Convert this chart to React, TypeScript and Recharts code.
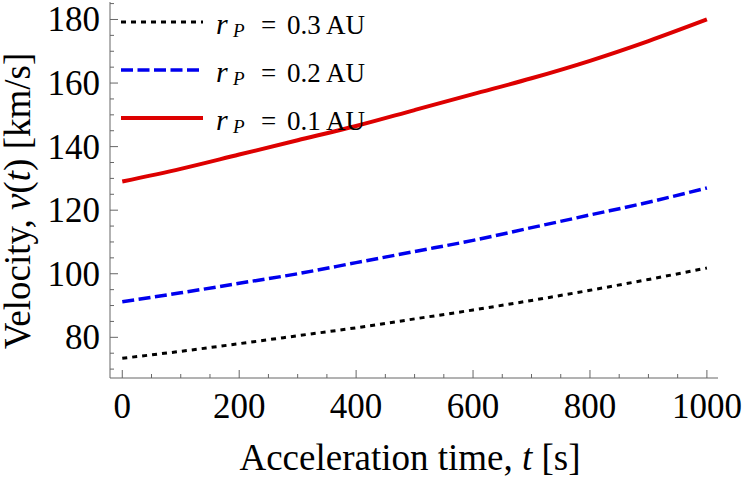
import * as React from 'react';
import { LineChart, Line, XAxis, YAxis, Legend } from 'recharts';

// acceleration time [s]
const times = [0, 100, 200, 300, 400, 500, 600, 700, 800, 900, 1000];
// velocity [km/s] for each perihelion distance
const vel03 = [73.4, 75.6, 78, 80.5, 83, 85.8, 88.6, 91.6, 94.8, 98.2, 101.8];
const vel02 = [91.2, 94, 97, 100, 103.5, 107, 110.5, 114.5, 118.5, 122.5, 127];
const vel01 = [129, 133, 137.5, 142, 146.5, 151.5, 156.5, 161.5, 167, 173.2, 180];

const seriesKeys = ['r03', 'r02', 'r01'];
const seriesLabels = ['0.3 AU', '0.2 AU', '0.1 AU'];

const xMajor = [0, 200, 400, 600, 800, 1000];
const xTicks = [0, 50, 100, 150, 200, 250, 300, 350, 400, 450, 500, 550, 600, 650, 700, 750, 800, 850, 900, 950, 1000];
const yMajor = [80, 100, 120, 140, 160, 180];
const yTicks = [70, 75, 80, 85, 90, 95, 100, 105, 110, 115, 120, 125, 130, 135, 140, 145, 150, 155, 160, 165, 170, 175, 180, 185];

const data = times.map((t, i) => ({ t, r03: vel03[i], r02: vel02[i], r01: vel01[i] }));

const FRAME = '#666';
const FONT = 'Liberation Serif';

const styles: Record<string, { color: string; width: number; dash?: string }> = {
  r03: { color: '#000000', width: 3, dash: '5 5' },
  r02: { color: '#0000ee', width: 3.5, dash: '12 4.5' },
  r01: { color: '#dd0000', width: 4 },
};

const txt = { fontFamily: FONT };

const BottomTick = (props: any) => {
  const { x, y, payload } = props;
  const major = xMajor.includes(payload.value);
  return (
    <g>
      <line x1={x} x2={x} y1={y} y2={y - (major ? 8 : 4)} stroke={FRAME} />
      {major && (
        <text x={x} y={y + 40} textAnchor="middle" fontSize={35} style={txt} fill="#000">
          {payload.value}
        </text>
      )}
    </g>
  );
};

const TopTick = (props: any) => {
  const { x, y, payload } = props;
  const major = xMajor.includes(payload.value);
  return <line x1={x} x2={x} y1={y} y2={y + (major ? 8 : 4)} stroke={FRAME} />;
};

const LeftTick = (props: any) => {
  const { x, y, payload } = props;
  const major = yMajor.includes(payload.value);
  return (
    <g>
      <line x1={x} x2={x + (major ? 8 : 4)} y1={y} y2={y} stroke={FRAME} />
      {major && (
        <text x={x - 10} y={y + 12} textAnchor="end" fontSize={35} style={txt} fill="#000">
          {payload.value}
        </text>
      )}
    </g>
  );
};

const RightTick = (props: any) => {
  const { x, y, payload } = props;
  const major = yMajor.includes(payload.value);
  return <line x1={x} x2={x - (major ? 8 : 4)} y1={y} y2={y} stroke={FRAME} />;
};

const XTitle = (props: any) => {
  const vb = props.viewBox || {};
  return (
    <text x={vb.x + vb.width / 2 - 4} y={vb.y + 92} textAnchor="middle" fontSize={37} style={txt} fill="#000">
      Acceleration time, <tspan fontStyle="italic">t</tspan> [s]
    </text>
  );
};

const YTitle = (props: any) => {
  const vb = props.viewBox || {};
  const cx = vb.x + 30;
  const cy = vb.y + vb.height / 2 + 11;
  return (
    <text
      x={cx}
      y={cy}
      transform={`rotate(-90 ${cx} ${cy})`}
      textAnchor="middle"
      fontSize={37}
      style={txt}
      fill="#000"
    >
      Velocity, <tspan fontStyle="italic">v</tspan>(<tspan fontStyle="italic">t</tspan>) [km/s]
    </text>
  );
};

// legend drawn inside the frame, top left, in series order
const renderLegend = (props: any) => {
  const payload = [...(props.payload || [])].sort(
    (a: any, b: any) => seriesKeys.indexOf(a.dataKey) - seriesKeys.indexOf(b.dataKey)
  );
  return (
    <svg width={280} height={140} style={{ display: 'block' }}>
      {payload.map((entry: any, i: number) => {
        const s = styles[entry.dataKey] || { color: entry.color, width: 3 };
        const cy = 20 + i * 48;
        return (
          <g key={`leg-${i}`}>
            <line
              x1={11}
              x2={93}
              y1={cy}
              y2={cy}
              stroke={s.color}
              strokeWidth={s.width}
              strokeDasharray={s.dash}
            />
            <text y={cy + 12} fontSize={27} style={txt} fill="#000">
              <tspan x={106} fontSize={30} fontStyle="italic">r</tspan>
              <tspan x={123} dy={3} fontStyle="italic" fontSize={19}>P</tspan>
              <tspan x={151} dy={-3}>=</tspan>
              <tspan x={177}>{entry.value}</tspan>
            </text>
          </g>
        );
      })}
    </svg>
  );
};

export default function App() {
  return (
    <div style={{ position: 'absolute', left: 0, top: 0, width: 743, height: 479, background: '#fff' }}>
      <LineChart width={743} height={479} data={data} margin={{ top: 2, right: 25, bottom: 0, left: 0 }}>
        <XAxis
          xAxisId="b"
          dataKey="t"
          type="number"
          domain={[-21, 1019]}
          allowDataOverflow
          ticks={xTicks}
          interval={0}
          height={101}
          tickSize={0}
          tickMargin={0}
          tickLine={false}
          axisLine={{ stroke: FRAME }}
          tick={BottomTick}
          label={<XTitle />}
        />
        <XAxis
          xAxisId="top"
          orientation="top"
          dataKey="t"
          type="number"
          domain={[-21, 1019]}
          allowDataOverflow
          ticks={xTicks}
          interval={0}
          height={0}
          tickSize={0}
          tickMargin={0}
          tickLine={false}
          axisLine={{ stroke: FRAME }}
          tick={TopTick}
        />
        <YAxis
          yAxisId="l"
          type="number"
          domain={[67.2, 185.5]}
          allowDataOverflow
          ticks={yTicks}
          interval={0}
          width={110}
          tickSize={0}
          tickMargin={0}
          tickLine={false}
          axisLine={{ stroke: FRAME }}
          tick={LeftTick}
          label={<YTitle />}
        />
        <YAxis
          yAxisId="r"
          orientation="right"
          type="number"
          domain={[67.2, 185.5]}
          allowDataOverflow
          ticks={yTicks}
          interval={0}
          width={0}
          tickSize={0}
          tickMargin={0}
          tickLine={false}
          axisLine={{ stroke: FRAME }}
          tick={RightTick}
        />
        <Legend
          layout="vertical"
          align="center"
          verticalAlign="middle"
          wrapperStyle={{ left: 110, top: 2, width: 280, height: 140 }}
          content={renderLegend}
        />
        {seriesKeys.map((k, i) => (
          <Line
            key={k}
            xAxisId="b"
            yAxisId="l"
            dataKey={k}
            name={seriesLabels[i]}
            type="monotone"
            stroke={styles[k].color}
            strokeWidth={styles[k].width}
            strokeDasharray={styles[k].dash}
            dot={false}
            activeDot={false}
            isAnimationActive={false}
          />
        ))}
      </LineChart>
    </div>
  );
}
